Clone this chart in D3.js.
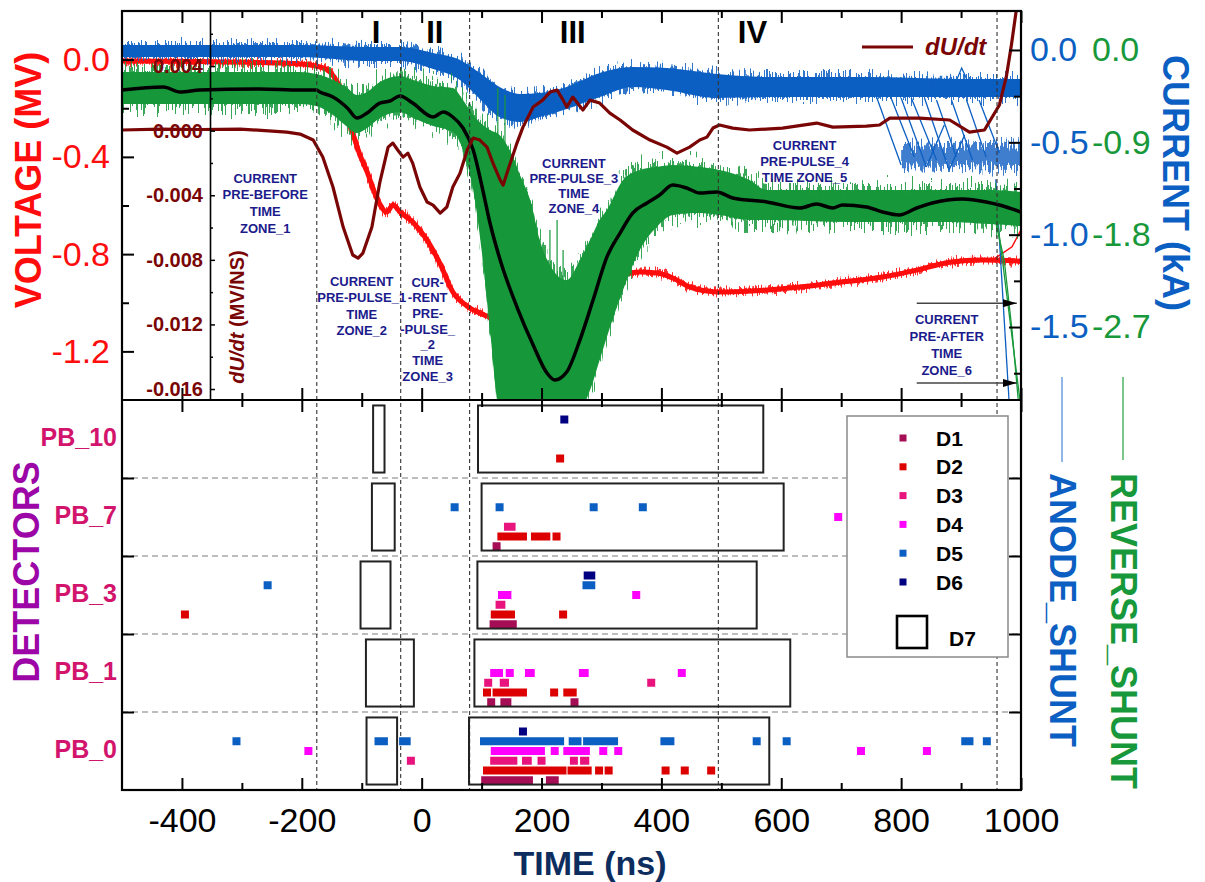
<!DOCTYPE html>
<html>
<head>
<meta charset="utf-8">
<script src="https://cdn.jsdelivr.net/npm/d3@7"></script>
<style>
  body { margin: 0; background: #fff; }
  svg { display: block; }
</style>
</head>
<body>
<svg id="chart" width="1205" height="882"></svg>
<script>
// ---------------- data ----------------
const timeTicks = [-400, -200, 0, 200, 400, 600, 800, 1000];
const timeMinor = [-300, -100, 100, 300, 500, 700, 900];
const zoneBounds = [-175, -35, 80, 495, 960];
const zoneNames = ["I", "II", "III", "IV"];
const zoneNameTimes = [-76, 22, 252, 552];

const voltTicks = [0, -0.4, -0.8, -1.2];
const voltMinor = [-0.2, -0.6, -1.0];
const dudtTicks = [0.004, 0, -0.004, -0.008, -0.012, -0.016];
const dudtMinor = [0.006, 0.002, -0.002, -0.006, -0.010, -0.014];
const anodeTicks = [0, -0.5, -1.0, -1.5];
const anodeMinor = [-0.25, -0.75, -1.25, -1.75];
const reverseTicks = [0, -0.9, -1.8, -2.7];

// voltage [ns, MV]
const voltage = [[-500,-0.006],[-370,-0.008],[-270,-0.012],[-203,-0.018],[-170,-0.030],[-153,-0.051],
  [-141,-0.092],[-128,-0.187],[-115,-0.302],[-103,-0.392],[-91,-0.462],[-75,-0.569],[-58,-0.627],
  [-48,-0.598],[-36,-0.627],[-15,-0.668],[9,-0.742],[31,-0.841],[52,-0.956],[76,-1.014],[97,-1.042],
  [114,-1.059],[147,-1.071],[181,-1.075],[202,-1.071],[231,-1.042],[264,-0.989],[297,-0.956],
  [319,-0.915],[342,-0.882],[364,-0.874],[392,-0.878],[419,-0.898],[447,-0.935],[476,-0.952],
  [497,-0.956],[576,-0.948],[631,-0.935],[686,-0.919],[769,-0.894],[826,-0.866],[881,-0.833],
  [936,-0.824],[1000,-0.829]];
const voltageTail = [[955,-0.820],[985,-0.770],[1000,-0.700]];

// anode shunt current envelope [ns, upper kA, lower kA]
const anodeBand = [[-500,0.027,-0.038],[-203,0.027,-0.038],[-86,0.016,-0.060],[-36,0.016,-0.060],
  [19,-0.016,-0.103],[64,-0.054,-0.163],[97,-0.124,-0.265],[130,-0.200,-0.363],[164,-0.238,-0.390],
  [197,-0.233,-0.363],[242,-0.200,-0.320],[297,-0.125,-0.255],[352,-0.092,-0.200],[409,-0.098,-0.217],
  [492,-0.130,-0.260],[576,-0.146,-0.255],[742,-0.146,-0.255],[909,-0.157,-0.255],[1000,-0.157,-0.255]];
const anodeLateBand = [[800,-0.520,-0.635],[1000,-0.505,-0.645]];
const anodeDrops = [
  [[759,-0.255],[800,-0.623]], [[780,-0.233],[822,-0.580]], [[800,-0.260],[842,-0.634]],
  [[817,-0.260],[859,-0.596]], [[839,-0.260],[880,-0.650]], [[859,-0.271],[892,-0.580]],
  [[884,-0.271],[919,-0.596]], [[909,-0.271],[942,-0.580]], [[930,-0.271],[964,-0.558]],
  [[842,-0.634],[872,-0.406]], [[880,-0.650],[906,-0.460]],
  [[889,-0.190],[901,-0.098],[914,-0.190]], [[958,-0.700],[980,-1.896]]];

// reverse shunt current envelope [ns, upper kA, lower kA]
const reverseBand = [[-500,-0.214,-0.526],[-203,-0.214,-0.526],[-176,-0.234,-0.546],[-148,-0.292,-0.634],
  [-124,-0.370,-0.750],[-108,-0.439,-0.809],[-91,-0.409,-0.760],[-70,-0.312,-0.663],[-36,-0.253,-0.604],
  [-14,-0.292,-0.663],[19,-0.351,-0.741],[52,-0.370,-0.799],[69,-0.487,-0.975],[86,-0.634,-1.365],
  [102,-0.731,-2.047],[114,-0.780,-2.729],[130,-0.828,-3.5],[147,-0.975,-3.5],[164,-1.218,-3.5],
  [181,-1.462,-3.5],[197,-1.852,-3.5],[219,-2.144,-3.5],[242,-2.242,-3.5],[264,-2.047,-3.5],
  [281,-1.852,-3.314],[297,-1.657,-3.021],[309,-1.559,-2.797],[336,-1.267,-2.339],[364,-1.170,-1.949],
  [392,-1.140,-1.725],[419,-1.121,-1.608],[464,-1.140,-1.589],[497,-1.170,-1.608],[547,-1.267,-1.657],
  [576,-1.365,-1.657],[714,-1.365,-1.676],[881,-1.365,-1.676],[947,-1.365,-1.696],[1000,-1.384,-1.715]];
const reverseSpikes = [[-34,-0.175,-0.448],[127,-0.370,-0.877],[139,-0.439,-0.975],
  [214,-1.754,-2.437],[226,-1.657,-2.437],[236,-1.949,-2.437]];
const reverseFalls = [[[955,-1.608],[972,-2.047],[985,-2.729],[996,-3.45]], [[960,-1.63],[999,-3.45]]];

// smoothed reverse current [ns, kA]
const reverseSmooth = [[-500,-0.390],[-431,-0.361],[-403,-0.409],[-370,-0.390],[-270,-0.380],[-203,-0.390],
  [-176,-0.390],[-170,-0.409],[-148,-0.458],[-124,-0.565],[-108,-0.663],[-91,-0.614],[-70,-0.517],
  [-53,-0.497],[-36,-0.448],[-15,-0.517],[19,-0.653],[36,-0.604],[52,-0.653],[69,-0.760],[86,-0.975],
  [102,-1.365],[114,-1.686],[131,-2.047],[159,-2.505],[186,-2.875],[209,-3.148],[222,-3.216],
  [242,-3.138],[264,-2.827],[286,-2.437],[309,-2.018],[331,-1.784],[352,-1.589],[376,-1.491],
  [397,-1.413],[419,-1.316],[442,-1.345],[464,-1.394],[492,-1.384],[519,-1.442],[576,-1.481],
  [631,-1.540],[659,-1.501],[686,-1.540],[702,-1.511],[742,-1.530],[769,-1.579],[797,-1.608],
  [826,-1.540],[852,-1.491],[902,-1.452],[942,-1.481],[964,-1.511],[1000,-1.579]];

// voltage derivative [ns, MV/ns]
const dudt = [[-500,0.00004],[-436,0.0001],[-370,0.00007],[-303,0.0001],[-225,-0.00009],[-203,-0.00021],
  [-181,-0.00058],[-165,-0.00163],[-148,-0.00349],[-131,-0.00597],[-115,-0.00770],[-106,-0.00789],
  [-98,-0.00758],[-83,-0.00597],[-70,-0.00324],[-56,-0.00102],[-48,-0.00077],[-40,-0.00120],
  [-31,-0.00164],[-23,-0.00139],[-15,-0.00201],[-3,-0.00349],[9,-0.00442],[19,-0.00461],[31,-0.00511],
  [42,-0.00473],[52,-0.00349],[64,-0.00263],[76,-0.00120],[86,-0.00046],[97,-0.00058],[109,-0.00102],
  [119,-0.00201],[131,-0.00306],[136,-0.00337],[144,-0.00244],[159,-0.00077],[169,0.00022],
  [186,0.00146],[202,0.00189],[214,0.00239],[226,0.00251],[236,0.00189],[242,0.00146],[252,0.00208],
  [269,0.00128],[281,0.00189],[297,0.00171],[314,0.00109],[331,0.00066],[352,0.00004],[381,-0.00058],
  [409,-0.00102],[426,-0.00139],[447,-0.00102],[464,-0.00058],[476,-0.00040],[486,0.00016],
  [497,0.00035],[519,0.00016],[547,0.00004],[602,0.00016],[659,0.00047],[686,0.00022],[742,0.00028],
  [764,0.00035],[781,0.00078],[831,0.00078],[881,0.00066],[914,-0.00009],[939,0.00004],[964,0.00159],
  [976,0.00344],[984,0.00530],[991,0.00716],[996,0.00840]];

// detector probes (bottom to top) and detector channels
const probes = ["PB_0", "PB_1", "PB_3", "PB_7", "PB_10"];
const detectors = ["D1", "D2", "D3", "D4", "D5", "D6"];
// hits: [probe, detector number, start ns, end ns]
const hits = [
  ["PB_10",6,238,238],["PB_10",2,231,231],
  ["PB_7",5,55,55],["PB_7",5,130,130],["PB_7",5,287,287],["PB_7",5,369,369],["PB_7",4,695,695],
  ["PB_7",3,144,150],["PB_7",2,133,169],["PB_7",2,189,208],["PB_7",2,225,225],["PB_7",1,125,125],
  ["PB_3",6,277,283],["PB_3",5,275,283],["PB_3",4,134,143],["PB_3",4,358,358],["PB_3",3,130,133],
  ["PB_3",2,122,149],["PB_3",2,236,236],["PB_3",1,120,152],["PB_3",5,-257,-257],["PB_3",2,-395,-395],
  ["PB_1",4,121,129],["PB_1",4,147,147],["PB_1",4,179,182],["PB_1",4,269,272],["PB_1",4,434,434],
  ["PB_1",3,111,111],["PB_1",3,137,139],["PB_1",3,383,383],
  ["PB_1",2,109,109],["PB_1",2,125,169],["PB_1",2,221,221],["PB_1",2,243,252],
  ["PB_1",1,116,116],["PB_1",1,138,143],["PB_1",1,255,255],
  ["PB_0",6,169,169],
  ["PB_0",5,104,231],["PB_0",5,252,260],["PB_0",5,276,321],["PB_0",5,405,415],["PB_0",5,559,559],
  ["PB_0",5,609,609],["PB_0",5,-309,-309],["PB_0",5,-72,-63],["PB_0",5,-31,-25],["PB_0",5,907,914],
  ["PB_0",5,943,943],
  ["PB_0",4,122,199],["PB_0",4,222,222],["PB_0",4,243,274],["PB_0",4,303,303],["PB_0",4,328,328],
  ["PB_0",4,-189,-189],["PB_0",4,733,733],["PB_0",4,843,843],
  ["PB_0",3,121,153],["PB_0",3,174,177],["PB_0",3,200,200],["PB_0",3,254,254],["PB_0",3,271,273],
  ["PB_0",3,-18,-18],
  ["PB_0",2,109,235],["PB_0",2,250,277],["PB_0",2,296,296],["PB_0",2,312,312],["PB_0",2,407,407],
  ["PB_0",2,439,439],["PB_0",2,483,483],
  ["PB_0",1,106,179],["PB_0",1,214,222]];
// D7 windows: [probe, start ns, end ns]
const windowsD7 = [
  ["PB_10",-81,-62],["PB_10",94,570],
  ["PB_7",-83,-45],["PB_7",100,604],
  ["PB_3",-102,-52],["PB_3",93,559],
  ["PB_1",-93,-13],["PB_1",88,615],
  ["PB_0",-92,-41],["PB_0",79,580]];

// zone annotations
const zoneNotes = [
  { t: -261, v: -0.487, gap: 16.7, lines: ["CURRENT", "PRE-BEFORE", "TIME", "ZONE_1"] },
  { t: -100, v: -0.911, gap: 16.5, lines: ["CURRENT", "PRE-PULSE_1", "TIME", "ZONE_2"] },
  { t: 10,   v: -0.915, gap: 15.7, lines: ["CUR-", "-RENT", "PRE-", "-PULSE_", "_2", "TIME", "ZONE_3"] },
  { t: 254,  v: -0.425, gap: 15.0, lines: ["CURRENT", "PRE-PULSE_3", "TIME", "ZONE_4"] },
  { t: 639,  v: -0.351, gap: 16.0, lines: ["CURRENT", "PRE-PULSE_4", "TIME ZONE_5"] },
  { t: 876,  v: -1.067, gap: 17.0, lines: ["CURRENT", "PRE-AFTER", "TIME", "ZONE_6"] }];
const arrowSpan = [826, 993];
const arrowLevels = [-1.002, -1.330];

// ---------------- layout & style ----------------
const FONT = "'Liberation Sans', Arial, Helvetica, sans-serif";
const L = 122, R = 1021, TOP = 11, MID = 400, BOT = 790;
const COL = {
  red: "#ff0d0d", blue: "#0c5fc2", green: "#17983a", maroon: "#7a0505",
  navy: "#1b1b8c", probe: "#d2146c", det: "#9c06a6", time: "#0c2d5e"
};
const detColors = ["#a50d55", "#dc0000", "#e8137c", "#ff00ff", "#0c5fc2", "#000080"];

const svg = d3.select("#chart");
svg.append("rect").attr("width", 1205).attr("height", 882).attr("fill", "#fff");

const x = d3.scaleLinear().domain([-500, 1000]).range([L, R]);
const yV = d3.scaleLinear().domain([-1.4, 0.2]).range([MID, TOP]);
const yD = d3.scaleLinear().domain([-0.01668, 0.00741]).range([MID, TOP]);
const yA = d3.scaleLinear().domain([-1.895, 0.211]).range([MID, TOP]);
const yR = d3.scaleLinear().domain([-3.411, 0.380]).range([MID, TOP]);
const yB = d3.scaleLinear().domain([0, probes.length]).range([BOT, MID]);

// ---------------- defs ----------------
const defs = svg.append("defs");
defs.append("clipPath").attr("id", "clipTop")
  .append("rect").attr("x", L).attr("y", TOP).attr("width", R - L).attr("height", MID - TOP);

// vertical hair-like jitter for the recorded noisy traces
function jitterFilter(id, scale, seed) {
  const f = defs.append("filter").attr("id", id).attr("filterUnits", "userSpaceOnUse")
    .attr("x", 0).attr("y", 0).attr("width", 1205).attr("height", 882);
  f.append("feTurbulence").attr("type", "fractalNoise").attr("baseFrequency", "0.8 0.05")
    .attr("numOctaves", 1).attr("seed", seed).attr("result", "n");
  f.append("feColorMatrix").attr("in", "n").attr("type", "matrix")
    .attr("values", "2.2 0 0 0 -0.6  0 0 0 0 0.5  0 0 0 0 0  0 0 0 0 1").attr("result", "m");
  f.append("feDisplacementMap").attr("in", "SourceGraphic").attr("in2", "m")
    .attr("scale", scale).attr("xChannelSelector", "G").attr("yChannelSelector", "R");
}
jitterFilter("jRed", 8, 3);
jitterFilter("jBlue", 17, 7);
jitterFilter("jGreen", 30, 11);

defs.append("marker").attr("id", "arrowHead").attr("viewBox", "0 0 14 8")
  .attr("refX", 14).attr("refY", 4).attr("markerWidth", 14).attr("markerHeight", 8)
  .attr("markerUnits", "userSpaceOnUse").attr("orient", "auto")
  .append("path").attr("d", "M0,0 L14,4 L0,8 Z").attr("fill", "#000");

// ---------------- bottom panel grid ----------------
svg.append("g").selectAll("line").data(d3.range(1, probes.length)).join("line")
  .attr("x1", L).attr("x2", R).attr("y1", d => yB(d)).attr("y2", d => yB(d))
  .attr("stroke", "#a8a8a8").attr("stroke-width", 1.5).attr("stroke-dasharray", "6,4");

// ---------------- top panel traces ----------------
const traces = svg.append("g").attr("clip-path", "url(#clipTop)");

// a solid core plus a jittered, slightly lighter copy for the noisy edges
function noisy(parent, filterId, draw) {
  draw(parent.append("g"));
  draw(parent.append("g").attr("filter", `url(#${filterId})`).attr("opacity", 0.85));
}

const lineV = d3.line().x(d => x(d[0])).y(d => yV(d[1])).curve(d3.curveMonotoneX);
noisy(traces, "jRed", g => g.append("path").datum(voltage).attr("d", lineV)
  .attr("fill", "none").attr("stroke", COL.red).attr("stroke-width", 5));
traces.append("path").datum(voltageTail).attr("d", d3.line().x(d => x(d[0])).y(d => yV(d[1])))
  .attr("fill", "none").attr("stroke", COL.red).attr("stroke-width", 1.5);

const areaA = d3.area().x(d => x(d[0])).y0(d => yA(d[2])).y1(d => yA(d[1])).curve(d3.curveMonotoneX);
const lineA = d3.line().x(d => x(d[0])).y(d => yA(d[1]));
const blueG = traces.append("g");
noisy(blueG, "jBlue", g => g.append("path").datum(anodeBand).attr("d", areaA).attr("fill", COL.blue));
blueG.append("g").attr("filter", "url(#jBlue)")
  .append("path").datum(anodeLateBand).attr("d", areaA).attr("fill", COL.blue).attr("opacity", 0.8);
blueG.selectAll("path.drop").data(anodeDrops).join("path").attr("class", "drop")
  .attr("d", lineA).attr("fill", "none").attr("stroke", COL.blue).attr("stroke-width", 1.3);

const areaR = d3.area().x(d => x(d[0])).y0(d => yR(d[2])).y1(d => yR(d[1])).curve(d3.curveMonotoneX);
const lineR = d3.line().x(d => x(d[0])).y(d => yR(d[1]));
const greenG = traces.append("g");
noisy(greenG, "jGreen", g => g.append("path").datum(reverseBand).attr("d", areaR).attr("fill", COL.green));
greenG.selectAll("line.spike").data(reverseSpikes).join("line").attr("class", "spike")
  .attr("x1", d => x(d[0])).attr("x2", d => x(d[0]))
  .attr("y1", d => yR(d[1])).attr("y2", d => yR(d[2]))
  .attr("stroke", COL.green).attr("stroke-width", 1.5).attr("opacity", 0.8);
greenG.selectAll("path.fall").data(reverseFalls).join("path").attr("class", "fall")
  .attr("d", lineR).attr("fill", "none").attr("stroke", COL.green).attr("stroke-width", 1.3);

traces.append("path").datum(reverseSmooth)
  .attr("d", d3.line().x(d => x(d[0])).y(d => yR(d[1])).curve(d3.curveMonotoneX))
  .attr("fill", "none").attr("stroke", "#000").attr("stroke-width", 3.5);

traces.append("path").datum(dudt)
  .attr("d", d3.line().x(d => x(d[0])).y(d => yD(d[1])))
  .attr("fill", "none").attr("stroke", COL.maroon).attr("stroke-width", 3.2).attr("stroke-linejoin", "round");

// ---------------- zone boundaries ----------------
svg.append("g").selectAll("line").data(zoneBounds).join("line")
  .attr("x1", d => x(d)).attr("x2", d => x(d)).attr("y1", TOP).attr("y2", BOT)
  .attr("stroke", "#333").attr("stroke-width", 1.1).attr("stroke-dasharray", "4,3");

svg.append("g").selectAll("text").data(zoneNames).join("text")
  .attr("x", (d, i) => x(zoneNameTimes[i])).attr("y", 43)
  .attr("text-anchor", "middle").attr("font-family", FONT).attr("font-weight", "bold")
  .attr("font-size", 31).attr("fill", "#000").text(d => d);

// zone notes
const notes = svg.append("g").attr("font-family", FONT).attr("font-weight", "bold")
  .attr("font-size", 13).attr("fill", COL.navy).attr("text-anchor", "middle");
zoneNotes.forEach(n => {
  notes.append("text").selectAll("tspan").data(n.lines).join("tspan")
    .attr("x", x(n.t)).attr("y", (d, i) => yV(n.v) + 4.6 + i * n.gap).text(d => d);
});

// arrows to the late zone
svg.append("g").selectAll("line").data(arrowLevels).join("line")
  .attr("x1", x(arrowSpan[0])).attr("x2", x(arrowSpan[1]))
  .attr("y1", d => yV(d)).attr("y2", d => yV(d))
  .attr("stroke", "#444").attr("stroke-width", 1.4).attr("marker-end", "url(#arrowHead)");

// ---------------- bottom panel: detector hits ----------------
const bandOf = p => probes.indexOf(p);
svg.append("g").selectAll("rect").data(hits).join("rect")
  .attr("x", d => x(d[2]) - 4).attr("width", d => x(d[3]) - x(d[2]) + 8)
  .attr("y", d => yB(bandOf(d[0]) + d[1] / 8) - 4).attr("height", 8)
  .attr("fill", d => detColors[d[1] - 1]);

svg.append("g").selectAll("rect").data(windowsD7).join("rect")
  .attr("x", d => x(d[1])).attr("width", d => x(d[2]) - x(d[1]))
  .attr("y", d => yB(bandOf(d[0]) + 0.93)).attr("height", d => yB(bandOf(d[0]) + 0.07) - yB(bandOf(d[0]) + 0.93))
  .attr("fill", "none").attr("stroke", "#222").attr("stroke-width", 2);

// legend of detectors
const leg = svg.append("g");
leg.append("rect").attr("x", 847).attr("y", 416).attr("width", 161).attr("height", 241)
  .attr("fill", "#fff").attr("stroke", "#8a8a8a").attr("stroke-width", 1.5);
const legRows = leg.selectAll("g.row").data(detectors).join("g").attr("class", "row")
  .attr("transform", (d, i) => `translate(0,${438 + i * 28.8})`);
legRows.append("rect").attr("x", 899.5).attr("y", -3.5).attr("width", 7).attr("height", 7)
  .attr("fill", (d, i) => detColors[i]);
legRows.append("text").attr("x", 936).attr("y", 7.5).attr("font-family", FONT)
  .attr("font-weight", "bold").attr("font-size", 21).attr("fill", "#000").text(d => d);
leg.append("rect").attr("x", 897).attr("y", 616).attr("width", 30).attr("height", 32)
  .attr("fill", "none").attr("stroke", "#000").attr("stroke-width", 2.6);
leg.append("text").attr("x", 949).attr("y", 646).attr("font-family", FONT)
  .attr("font-weight", "bold").attr("font-size", 21).attr("fill", "#000").text("D7");

// ---------------- axes ----------------
function style(g, opt = {}) {
  g.attr("font-family", FONT).attr("font-size", opt.size || 34);
  g.selectAll(".tick line").attr("stroke", "#000").attr("stroke-width", opt.tw || 2);
  if (opt.keepDomain) g.select(".domain").attr("stroke", "#000").attr("stroke-width", 1.6);
  else g.select(".domain").remove();
  g.selectAll(".tick text").attr("fill", opt.color || "#000").attr("font-weight", opt.weight || "normal");
  return g;
}
const fmt1 = d => d.toFixed(1);
const none = () => "";

// time axis
svg.append("g").attr("transform", `translate(0,${BOT})`)
  .call(d3.axisBottom(x).tickValues(timeTicks).tickSize(-12).tickPadding(18).tickFormat(d => d))
  .call(g => style(g));
svg.append("g").attr("transform", `translate(0,${BOT})`)
  .call(d3.axisBottom(x).tickValues(timeMinor).tickSize(-7).tickFormat(none)).call(g => style(g));
[[TOP, "top", -12, -7], [MID, "top", 12, 7], [MID, "bottom", 12, 7]].forEach(([yy, side, big, small]) => {
  const mk = side === "top" ? d3.axisTop : d3.axisBottom;
  svg.append("g").attr("transform", `translate(0,${yy})`)
    .call(mk(x).tickValues(timeTicks).tickSize(big).tickFormat(none)).call(g => style(g));
  svg.append("g").attr("transform", `translate(0,${yy})`)
    .call(mk(x).tickValues(timeMinor).tickSize(small).tickFormat(none)).call(g => style(g));
});

// voltage axis
svg.append("g").attr("transform", `translate(${L},0)`)
  .call(d3.axisLeft(yV).tickValues(voltTicks).tickSize(-12).tickPadding(12).tickFormat(fmt1))
  .call(g => style(g, { color: COL.red, size: 34 }));
svg.append("g").attr("transform", `translate(${L},0)`)
  .call(d3.axisLeft(yV).tickValues(voltMinor).tickSize(-7).tickFormat(none)).call(g => style(g));

// derivative axis inside the panel
svg.append("g").attr("transform", `translate(210,0)`)
  .call(d3.axisLeft(yD).tickValues(dudtTicks).tickSize(-5).tickSizeOuter(0).tickPadding(7).tickFormat(d => d.toFixed(3)))
  .call(g => style(g, { color: COL.maroon, size: 20, weight: "bold", keepDomain: true, tw: 1.5 }));
svg.append("g").attr("transform", `translate(210,0)`)
  .call(d3.axisLeft(yD).tickValues(dudtMinor).tickSize(-3).tickFormat(none)).call(g => style(g, { tw: 1.5 }));

// current axes on the right
svg.append("g").attr("transform", `translate(${R},0)`)
  .call(d3.axisRight(yA).tickValues(anodeTicks).tickSize(-12).tickPadding(9).tickFormat(fmt1))
  .call(g => style(g, { color: COL.blue }));
svg.append("g").attr("transform", `translate(${R},0)`)
  .call(d3.axisRight(yA).tickValues(anodeMinor).tickSize(-7).tickFormat(none)).call(g => style(g));
svg.append("g").attr("transform", `translate(${R},0)`)
  .call(d3.axisRight(yR).tickValues(reverseTicks).tickSize(0).tickPadding(71).tickFormat(fmt1))
  .call(g => style(g, { color: COL.green }));

// detector band ticks
[[d3.axisLeft, L], [d3.axisRight, R]].forEach(([mk, xx]) => {
  svg.append("g").attr("transform", `translate(${xx},0)`)
    .call(mk(yB).tickValues(d3.range(1, probes.length)).tickSize(-12).tickFormat(none)).call(g => style(g));
});
svg.append("g").selectAll("text").data(probes).join("text")
  .attr("x", 117).attr("y", (d, i) => yB(i + 0.5) + 7)
  .attr("text-anchor", "end").attr("font-family", FONT).attr("font-weight", "bold")
  .attr("font-size", 25).attr("fill", COL.probe).text(d => d);

// frame
svg.append("rect").attr("x", L).attr("y", TOP).attr("width", R - L).attr("height", BOT - TOP)
  .attr("fill", "none").attr("stroke", "#000").attr("stroke-width", 2.2);
svg.append("line").attr("x1", L).attr("x2", R).attr("y1", MID).attr("y2", MID)
  .attr("stroke", "#000").attr("stroke-width", 2.2);

// ---------------- titles ----------------
const title = (txt, tx, ty, rot, size, color) =>
  svg.append("text").attr("transform", `translate(${tx},${ty}) rotate(${rot})`)
    .attr("text-anchor", "middle").attr("dominant-baseline", "central")
    .attr("font-family", FONT).attr("font-weight", "bold").attr("font-size", size)
    .attr("fill", color).text(txt);
title("VOLTAGE (MV)", 28, 180, -90, 36, COL.red);
title("DETECTORS", 26, 572, -90, 36, COL.det);
title("CURRENT (kA)", 1175, 183, 90, 36, COL.blue);
title("ANODE_SHUNT", 1062, 610, 90, 36, COL.blue);
title("REVERSE_SHUNT", 1123, 631, 90, 36, COL.green);

const dl = svg.append("text").attr("transform", "translate(237,317) rotate(-90)")
  .attr("text-anchor", "middle").attr("dominant-baseline", "central")
  .attr("font-family", FONT).attr("font-weight", "bold").attr("font-size", 20).attr("fill", COL.maroon);
dl.append("tspan").attr("font-style", "italic").text("dU/dt");
dl.append("tspan").text(" (MV/NS)");

svg.append("text").attr("x", 590).attr("y", 875).attr("text-anchor", "middle")
  .attr("font-family", FONT).attr("font-weight", "bold").attr("font-size", 34)
  .attr("fill", COL.time).text("TIME (ns)");

// trace keys
svg.append("line").attr("x1", 862).attr("x2", 913).attr("y1", 47).attr("y2", 47)
  .attr("stroke", COL.maroon).attr("stroke-width", 3);
svg.append("text").attr("x", 925).attr("y", 55).attr("font-family", FONT)
  .attr("font-weight", "bold").attr("font-style", "italic").attr("font-size", 24)
  .attr("fill", COL.maroon).text("dU/dt");
svg.append("line").attr("x1", 1062).attr("x2", 1062).attr("y1", 377).attr("y2", 462)
  .attr("stroke", "#6b9fe0").attr("stroke-width", 1.5);
svg.append("line").attr("x1", 1123).attr("x2", 1123).attr("y1", 377).attr("y2", 460)
  .attr("stroke", "#4fb565").attr("stroke-width", 1.5);
</script>
</body>
</html>
